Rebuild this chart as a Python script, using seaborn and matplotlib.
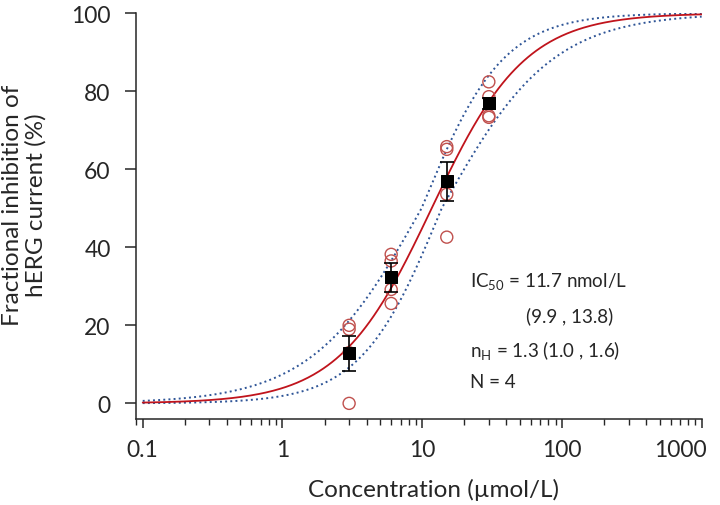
"""
hERG concentration-response chart
Hill fit with confidence band, individual cells and mean +/- SEM
"""

import numpy as np
import pandas as pd
import matplotlib.pyplot as plt
import matplotlib.transforms as mtrans
import seaborn as sns
from matplotlib.ticker import NullFormatter, LogLocator

sns.set_style("ticks")
plt.rcParams['font.family'] = ['Lato', 'DejaVu Sans']
plt.rcParams['font.size'] = 13
plt.rcParams['mathtext.fontset'] = 'custom'
plt.rcParams['mathtext.rm'] = 'Lato'

# Individual cells (open circles)
conc_cells = [3, 3, 3, 3, 6, 6, 6, 6, 15, 15, 15, 15, 30, 30, 30, 30]
inhib_cells = [20.0, 19.0, 0.0, 13.0,
               38.2, 36.5, 29.2, 25.6,
               65.8, 65.1, 53.6, 42.6,
               82.4, 73.7, 73.3, 78.6]

# Mean +/- SEM (filled squares)
conc_mean = [3, 6, 15, 30]
inhib_mean = [12.8, 32.3, 56.9, 76.9]
inhib_sem = [4.5, 3.8, 5.0, 1.4]

# Fit parameters as printed on the chart
ic50 = 11.7
ic50_ci = (9.9, 13.8)
n_hill = 1.3
n_hill_ci = (1.0, 1.6)
n_cells = 4

# Parameters of the dotted band
band_ic50 = (9.9, 13.8)
band_n = (1.1, 1.5)

# Concentration range of the fitted curves
conc_lo, conc_hi = 0.1, 1000

def hill(x, c, n):
    return 100.0 / (1.0 + (c / x) ** n)

xfit = np.logspace(np.log10(conc_lo), np.log10(conc_hi), 400)
fit_main = hill(xfit, ic50, n_hill)
# band = envelope of the corner curves
corners = np.array([hill(xfit, c, n) for c in band_ic50 for n in band_n])
band_hi = corners.max(axis=0)
band_lo = corners.min(axis=0)

df_fit = pd.DataFrame({'x': np.tile(xfit, 3),
                       'y': np.concatenate([fit_main, band_hi, band_lo]),
                       'curve': ['fit'] * 400 + ['hi'] * 400 + ['lo'] * 400})
df_cells = pd.DataFrame({'x': conc_cells, 'y': inhib_cells})
df_mean = pd.DataFrame({'x': conc_mean, 'y': inhib_mean, 'sem': inhib_sem})

fig = plt.figure(figsize=(7.2, 5.06), dpi=100)
ax = fig.add_axes([0.1885, 0.170, 0.786, 0.802])

sns.lineplot(data=df_fit[df_fit['curve'] == 'hi'], x='x', y='y', ax=ax,
             color='#2f5597', linestyle=':', linewidth=1.4)
sns.lineplot(data=df_fit[df_fit['curve'] == 'lo'], x='x', y='y', ax=ax,
             color='#2f5597', linestyle=':', linewidth=1.4)
sns.lineplot(data=df_fit[df_fit['curve'] == 'fit'], x='x', y='y', ax=ax,
             color='#c0141c', linewidth=1.3)

sns.scatterplot(data=df_cells, x='x', y='y', ax=ax, marker='o', s=75,
                facecolor='none', edgecolor='#c0504d', linewidth=1.0, zorder=3)

ax.errorbar(df_mean['x'], df_mean['y'], yerr=df_mean['sem'], fmt='none',
            ecolor='black', elinewidth=1.2, capsize=5, capthick=1.2, zorder=4)
sns.scatterplot(data=df_mean, x='x', y='y', ax=ax, marker='s', s=80,
                color='black', edgecolor='black', zorder=5)

ax.set_xscale('log')
ax.set_xlim(0.0891, 1000)
ax.set_ylim(-4, 100)
ax.set_xticks([0.1, 1, 10, 100, 1000])
ax.set_xticklabels(['0.1', '1', '10', '100', '1000'])
ax.xaxis.set_minor_locator(LogLocator(base=10, subs=np.arange(2, 10)))
ax.xaxis.set_minor_formatter(NullFormatter())
ax.set_yticks([0, 20, 40, 60, 80, 100])

sns.despine(ax=ax)
ax.spines['left'].set_bounds(-4, 100)
ax.spines['bottom'].set_bounds(0.0891, 1000)
for s in ['left', 'bottom']:
    ax.spines[s].set_linewidth(1.1)
ax.tick_params(axis='both', which='major', length=6.5, width=1.1,
               labelsize=16.5, pad=8)
ax.tick_params(axis='y', length=8, pad=10)
ax.tick_params(axis='x', which='minor', length=4.3, width=1.0)

# last x label sits left of its tick, inside the figure
last = ax.get_xticklabels()[-1]
last.set_ha('right')
last.set_transform(last.get_transform() +
                   mtrans.ScaledTranslation(5 / 100, 0, fig.dpi_scale_trans))

ax.set_xlabel('Concentration (µmol/L)', fontsize=17.5)
ax.xaxis.set_label_coords(0.527, -0.145)
ax.set_ylabel('Fractional inhibition of\nhERG current (%)', fontsize=17.5,
              linespacing=1.1)
ax.yaxis.set_label_coords(-0.158, 0.53)

txt_kw = dict(transform=ax.transAxes, fontsize=13.5, ha='left', va='center')
ax.text(0.59, 0.34, r'IC$_{50}$ = 11.7 nmol/L', **txt_kw)
ax.text(0.69, 0.255, f'({ic50_ci[0]} , {ic50_ci[1]})', **txt_kw)
ax.text(0.59, 0.17, r'n$_{\rm H}$ = ' + f'{n_hill} ({n_hill_ci[0]} , {n_hill_ci[1]})', **txt_kw)
ax.text(0.59, 0.093, f'N = {n_cells}', **txt_kw)

plt.savefig('out.png', dpi=100)
